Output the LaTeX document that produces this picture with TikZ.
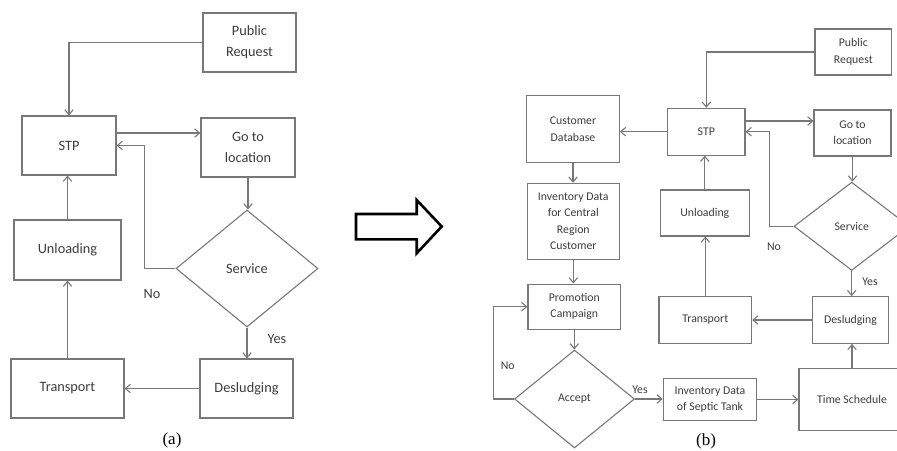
\documentclass[tikz,border=0pt]{standalone}
\usepackage{fontspec}
\setmainfont{Carlito}
\newfontfamily\capfont{Liberation Serif}
\usetikzlibrary{shapes.geometric,arrows.meta}
\definecolor{linegray}{RGB}{120,120,120}
\definecolor{textgray}{RGB}{60,60,60}
\newcommand{\fa}{\fontsize{14.3}{21}\selectfont}
\newcommand{\fb}{\fontsize{11.8}{16.4}\selectfont}
\newcommand{\fc}{\capfont\fontsize{17}{19}\selectfont}
\begin{document}
\begin{tikzpicture}[x=1pt,y=-1pt,>={Straight Barb[length=5pt,width=8.5pt]},
  bx/.style={draw=linegray,line width=1.1pt,text=textgray,align=center,inner sep=0pt},
  dia/.style={bx,diamond,aspect=1.2},
  lbl/.style={text=textgray,inner sep=0pt},
  ln/.style={draw=linegray,line width=1.1pt,->}]
\useasboundingbox (0,0) rectangle (897,450);

% (a)
\node[bx,font=\fa,minimum width=93pt,minimum height=59pt](pubA) at (249.5,42.5){Public\\Request};
\node[bx,font=\fa,minimum width=94pt,minimum height=59pt](stpA) at (69,145.5){STP};
\node[bx,font=\fa,minimum width=94pt,minimum height=59pt](goA) at (248,147.5){Go to\\location};
\node[dia,font=\fa,minimum width=142pt,minimum height=117pt](servA) at (247,268.5){Service};
\node[bx,font=\fa,minimum width=107pt,minimum height=60pt](unlA) at (67.5,250){Unloading};
\node[bx,font=\fa,minimum width=113pt,minimum height=59pt](trA) at (67.5,388.5){Transport};
\node[bx,font=\fa,minimum width=93pt,minimum height=59pt](desA) at (246.5,388.5){Desludging};
\node[lbl,font=\fa](noA) at (152,294){No};
\node[lbl,font=\fa](yesA) at (277,339){Yes};
\node[lbl,font=\fc,text=black](capA) at (172,440){(a)};

\draw[ln](pubA.west)-|(stpA.north);
\draw[ln]([yshift=12.5pt]stpA.east)--([yshift=12.5pt]stpA.east-|goA.west);
\draw[ln](servA.west)--++(-31,0)|-(stpA.east);
\draw[ln](goA.south)--(goA.south|-servA.north);
\draw[ln](servA.south)--(servA.south|-desA.north);
\draw[ln](desA.west)--(desA.west-|trA.east);
\draw[ln](trA.north)--(trA.north|-unlA.south);
\draw[ln](unlA.north)--(unlA.north|-stpA.south);

% big arrow
\draw[line width=2.6pt,line join=miter](356,214)--(416.7,214)--(416.7,200)--(441.7,226.5)
  --(416.7,253.3)--(416.7,239.3)--(356,239.3)--cycle;

% (b)
\node[bx,font=\fb,minimum width=92.6pt,minimum height=67pt](cdbB) at (573,129.2){Customer\\Database};
\node[bx,font=\fb,minimum width=92pt,minimum height=76pt](invB) at (573.3,221.3){Inventory Data\\for Central\\Region\\Customer};
\node[bx,font=\fb,minimum width=92.7pt,minimum height=45.3pt](proB) at (574.3,306.7){Promotion\\Campaign};
\node[dia,font=\fb,minimum width=120pt,minimum height=98pt](accB) at (574.5,399){Accept};
\node[bx,font=\fb,minimum width=76.7pt,minimum height=46pt](pubB) at (853.3,52){Public\\Request};
\node[bx,font=\fb,minimum width=77.3pt,minimum height=46.7pt](stpB) at (706.3,131.7){STP};
\node[bx,font=\fb,minimum width=77pt,minimum height=46pt](goB) at (852.5,133){Go to\\location};
\node[dia,font=\fb,minimum width=115.4pt,minimum height=88.3pt](servB) at (851.7,226.3){Service};
\node[bx,font=\fb,minimum width=88.7pt,minimum height=46pt](unlB) at (704.8,213){Unloading};
\node[bx,font=\fb,minimum width=92.7pt,minimum height=47.3pt](trB) at (705.3,319.7){Transport};
\node[bx,font=\fb,minimum width=76.4pt,minimum height=46.6pt](desB) at (850.5,320){Desludging};
\node[bx,font=\fb,minimum width=93.4pt,minimum height=42.4pt](sepB) at (710,399.5){Inventory Data\\of Septic Tank};
\node[bx,font=\fb,minimum width=106pt,minimum height=61.7pt](timB) at (852,399.2){Time Schedule};
\node[lbl,font=\fb](noB) at (507.7,366){No};
\node[lbl,font=\fb](noC) at (774,246.7){No};
\node[lbl,font=\fb](yesB) at (870,281.7){Yes};
\node[lbl,font=\fb](yesC) at (640,390){Yes};
\node[lbl,font=\fc,text=black](capB) at (706,441.7){(b)};

\draw[ln](pubB.west)-|(stpB.north);
\draw[ln](stpB.west)--(stpB.west-|cdbB.east);
\draw[ln]([yshift=10.7pt]stpB.east)--([yshift=10.7pt]stpB.east-|goB.west);
\draw[ln](servB.west)--++(-24,0)|-(stpB.east);
\draw[ln](goB.south)--(goB.south|-servB.north);
\draw[ln](servB.south)--(servB.south|-desB.north);
\draw[ln](desB.west)--(desB.west-|trB.east);
\draw[ln](trB.north)--(trB.north|-unlB.south);
\draw[ln](unlB.north)--(unlB.north|-stpB.south);
\draw[ln](cdbB.south)--(cdbB.south|-invB.north);
\draw[ln](invB.south)--(invB.south|-proB.north);
\draw[ln](proB.south)--(proB.south|-accB.north);
\draw[ln](accB.west)--++(-20.7,0)|-(proB.west);
\draw[ln](accB.east)--(accB.east-|sepB.west);
\draw[ln](sepB.east)--(sepB.east-|timB.west);
\draw[ln](timB.north)--(timB.north|-desB.south);

\end{tikzpicture}
\end{document}
